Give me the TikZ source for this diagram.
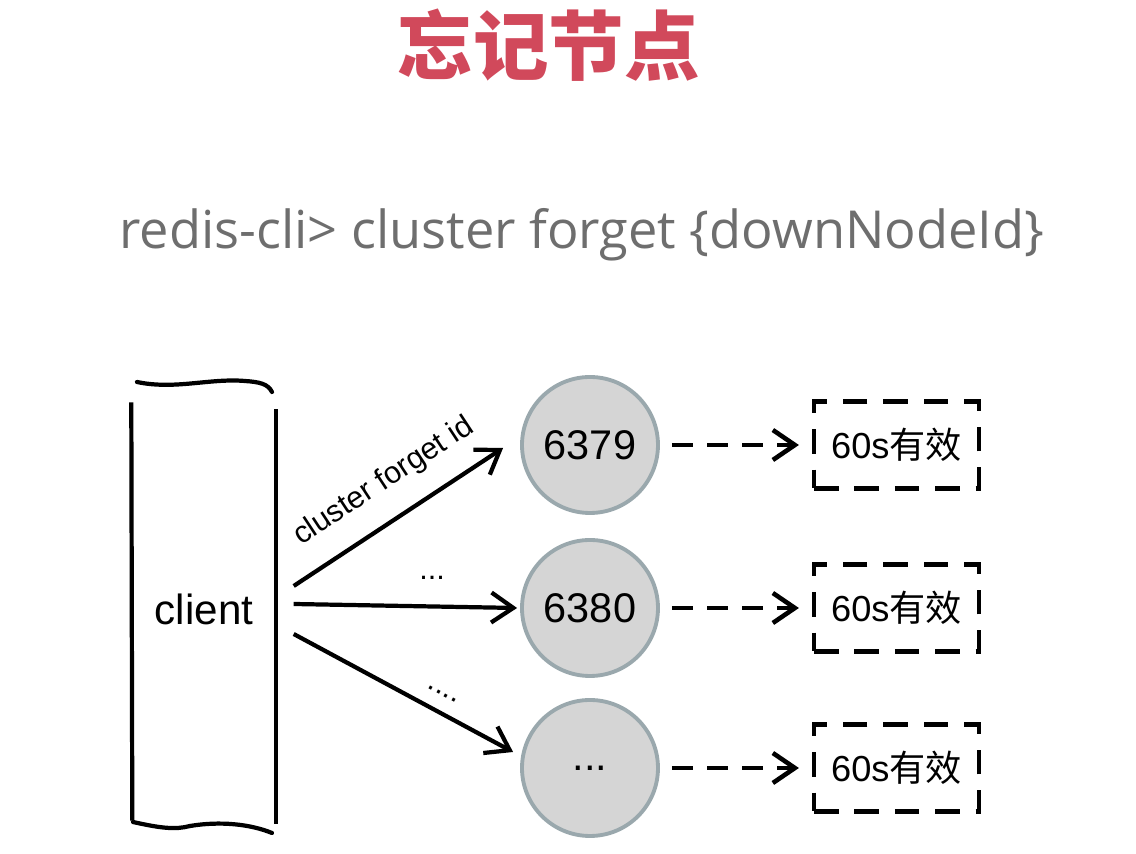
\documentclass[tikz,border=0pt]{standalone}
\usepackage{fontspec}
\setmainfont{Liberation Sans}
\newfontfamily\cjk{Noto Sans CJK SC}
\newfontfamily\cmdfont{Open Sans}
\usetikzlibrary{positioning,calc,arrows.meta}

\definecolor{titlered}{HTML}{D1495B}
\definecolor{cmdgray}{HTML}{6E6E6E}
\definecolor{srvfill}{HTML}{D5D5D5}
\definecolor{srvline}{HTML}{9AA8AD}
\newcommand\srvdots{...}

\tikzset{
  srv/.style={circle, draw=srvline, fill=srvfill, line width=1.1pt,
    minimum size=1.36cm, inner sep=0pt, font=\fontsize{11.8}{12}\selectfont},
  ttl/.style={draw, dash pattern=on 7pt off 4.5pt, line width=1.2pt,
    minimum width=1.65cm, minimum height=0.87cm, inner sep=0pt,
    font=\fontsize{10.3}{10}\selectfont},
  arr/.style={line width=1.2pt, -{Straight Barb[length=2.2mm,width=3mm]}},
  dasharr/.style={arr, line width=1.3pt, dash pattern=on 6pt off 4pt,
    shorten <=0.12cm, shorten >=0.13cm},
  lbl/.style={font=\fontsize{8.7}{9}\selectfont, inner sep=1pt}
}

\begin{document}
\begin{tikzpicture}
  \useasboundingbox[fill=white] (0,0) rectangle (11.36,8.54);

  % title and command
  \node[text=titlered, font=\fontsize{21.5}{21}\selectfont\cjk\bfseries] (title) at (5.49,8.09) {忘记节点};
  \node[text=cmdgray, font=\fontsize{14.9}{15}\selectfont\cmdfont] (cmd) at (5.82,6.19) {redis-cli> cluster forget \{downNodeId\}};

  % the client, drawn by hand
  \node[minimum width=1.42cm, minimum height=4.1cm, font=\fontsize{12}{12}\selectfont] (client) at (2.04,2.45) {client};
  \draw[line width=1.2pt] ($(client.north west)+(-0.01,0.01)$) -- ($(client.south west)+(0.0,-0.06)$);
  \draw[line width=1.2pt] ($(client.north east)+(0.0,-0.06)$) -- ($(client.south east)+(0.0,-0.09)$);
  \draw[line width=1.2pt, line cap=round]
    (1.37,4.72) .. controls (1.75,4.64) and (2.1,4.76) .. (2.45,4.73)
    .. controls (2.6,4.72) and (2.68,4.70) .. (2.72,4.62);
  \draw[line width=1.2pt, line cap=round]
    (1.33,0.32) .. controls (1.6,0.26) and (1.75,0.24) .. (1.9,0.28)
    .. controls (2.2,0.33) and (2.5,0.30) .. (2.72,0.21);

  % loops over the 3 servers
  \foreach \n/\y/\t in {1/4.09/6379, 2/2.46/6380, 3/0.86/\srvdots}{
    \node[srv] (s\n) at (5.90,\y) {\t};
    \node[ttl, right=1.52cm of s\n] (t\n) {60s\cjk 有效};
    \draw[dasharr] (s\n) -- (t\n);
  }

  % commands sent by the client
  \draw[arr] ($(client.east)+(0.18,0.23)$) -- node[lbl, sloped, above=5pt, pos=0.53] {cluster forget id} ($(s1.west)+(-0.17,-0.03)$);
  \draw[arr] ($(client.east)+(0.18,0.05)$) -- node[lbl, above=6pt, pos=0.62] {...} ($(s2.west)+(-0.03,0)$);
  \draw[arr] ($(client.east)+(0.18,-0.25)$) -- node[lbl, sloped, above=3pt, pos=0.64] {....} ($(s3.west)+(-0.07,0.16)$);
\end{tikzpicture}
\end{document}
